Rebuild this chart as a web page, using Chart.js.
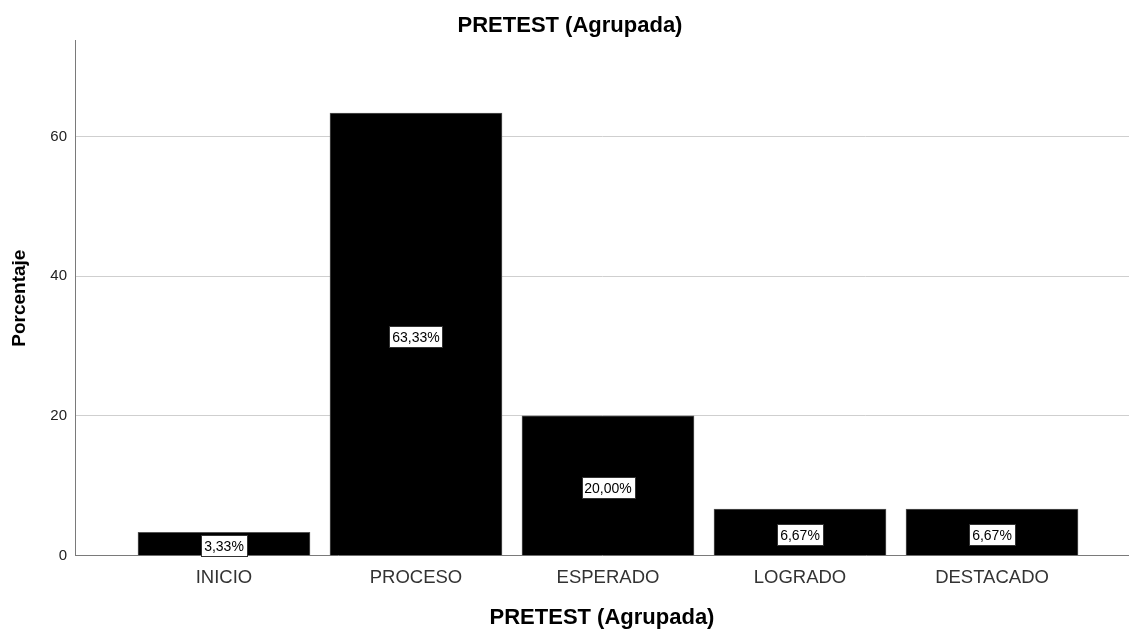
<!DOCTYPE html>
<html>
<head>
<meta charset="utf-8">
<script src="https://cdn.jsdelivr.net/npm/chart.js@4.4.1/dist/chart.umd.min.js"></script>
<style>
  html, body { margin: 0; padding: 0; background: #fff; }
  #wrap { width: 1129px; height: 629px; position: relative; }
</style>
</head>
<body>
<div id="wrap"><canvas id="chart"></canvas></div>
<script>
  // PRETEST (Agrupada) — percentage per level
  const CATEGORIES = ['INICIO', 'PROCESO', 'ESPERADO', 'LOGRADO', 'DESTACADO'];
  const PERCENT = [3.33, 63.33, 20.0, 6.67, 6.67];
  const Y_TICKS = [0, 20, 40, 60];
  const Y_MAX = 73.7;
  const TITLE = 'PRETEST (Agrupada)';
  const Y_TITLE = 'Porcentaje';

  const FONT = "'Liberation Sans', Arial, sans-serif";
  const AXIS = '#7a7a7a';
  const GRID = '#cfcfcf';

  function fmtPct(v) {
    return v.toFixed(2).replace('.', ',') + '%';
  }

  // Top title, drawn by hand so it can sit where the original puts it.
  const topTitle = {
    id: 'topTitle',
    afterDraw(chart) {
      const ctx = chart.ctx;
      ctx.save();
      ctx.font = 'bold 22px ' + FONT;
      ctx.fillStyle = '#000';
      ctx.textAlign = 'center';
      ctx.textBaseline = 'middle';
      ctx.fillText(TITLE, 570, 26);
      ctx.restore();
    },
  };

  // White boxed value labels in the middle of each bar.
  const boxLabels = {
    id: 'boxLabels',
    afterDatasetsDraw(chart) {
      const ctx = chart.ctx;
      const meta = chart.getDatasetMeta(0);
      ctx.save();
      ctx.font = '14px ' + FONT;
      ctx.textAlign = 'center';
      ctx.textBaseline = 'middle';
      meta.data.forEach((el, i) => {
        const txt = fmtPct(PERCENT[i]);
        const w = Math.round(ctx.measureText(txt).width + 6);
        const h = 21;
        const x0 = Math.round(el.x - w / 2) + 0.5;
        const y0 = Math.round((el.y + el.base) / 2 + 2 - h / 2) + 0.5;
        ctx.fillStyle = '#fff';
        ctx.fillRect(x0, y0, w, h);
        ctx.strokeStyle = '#333';
        ctx.lineWidth = 1;
        ctx.strokeRect(x0, y0, w, h);
        ctx.fillStyle = '#000';
        ctx.fillText(txt, el.x, y0 + h / 2 + 1);
      });
      ctx.restore();
    },
  };

  new Chart(document.getElementById('chart').getContext('2d'), {
    type: 'bar',
    data: {
      datasets: [
        {
          label: Y_TITLE,
          data: PERCENT.map((v, i) => ({ x: i + 1, y: v })),
          backgroundColor: '#000',
          borderColor: '#555',
          borderWidth: 1,
          barThickness: 172,
        },
      ],
    },
    options: {
      responsive: true,
      maintainAspectRatio: false,
      animation: false,
      layout: { padding: { top: 40.7, left: 0, right: 0, bottom: 0 } },
      plugins: {
        legend: { display: false },
        tooltip: { enabled: false },
        title: { display: false },
      },
      scales: {
        x: {
          type: 'linear',
          offset: false,
          min: 0.224,
          max: 5.7135,
          grid: { display: false },
          border: { display: true, color: AXIS, width: 1 },
          afterBuildTicks: (axis) => {
            axis.ticks = CATEGORIES.map((_, i) => ({ value: i + 1 }));
          },
          afterFit: (scale) => {
            scale.height = 73.3;
          },
          ticks: {
            color: '#333',
            padding: 3,
            autoSkip: false,
            maxRotation: 0,
            font: { family: FONT, size: 18.5 },
            callback: (v) => CATEGORIES[v - 1] || '',
          },
          title: {
            display: true,
            text: TITLE,
            color: '#000',
            font: { family: FONT, size: 22, weight: 'bold', lineHeight: 1 },
            padding: { top: 0, bottom: 0 },
          },
        },
        y: {
          min: 0,
          max: Y_MAX,
          grid: {
            drawTicks: false,
            color: (c) => (c.tick && c.tick.value === 0 ? 'rgba(0,0,0,0)' : GRID),
          },
          border: { display: true, color: AXIS, width: 1 },
          afterBuildTicks: (axis) => {
            axis.ticks = Y_TICKS.map((v) => ({ value: v }));
          },
          afterFit: (scale) => {
            scale.width = 75;
          },
          ticks: {
            color: '#222',
            padding: 8,
            font: { family: FONT, size: 15 },
          },
          title: {
            display: true,
            text: Y_TITLE,
            color: '#000',
            font: { family: FONT, size: 19, weight: 'bold' },
            padding: { top: 8, bottom: 0 },
          },
        },
      },
    },
    plugins: [topTitle, boxLabels],
  });
</script>
</body>
</html>
